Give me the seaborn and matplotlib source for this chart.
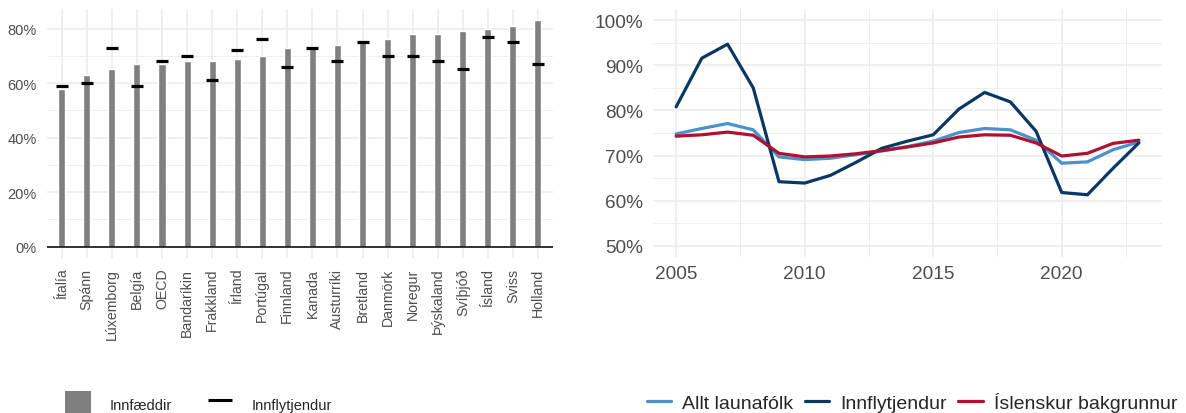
import numpy as np
import pandas as pd
import matplotlib
matplotlib.use("Agg")
import matplotlib.pyplot as plt
import seaborn as sns
from matplotlib.ticker import PercentFormatter, FixedLocator
from matplotlib.lines import Line2D
from matplotlib.patches import Patch

# ---------------- data ----------------
countries = ["Ítalía", "Spánn", "Lúxemborg", "Belgía", "OECD", "Bandaríkin", "Frakkland",
             "Írland", "Portúgal", "Finnland", "Kanada", "Austurríki", "Bretland", "Danmörk",
             "Noregur", "Þýskaland", "Svíþjóð", "Ísland", "Sviss", "Holland"]
native = [58, 63, 65, 67, 67, 68, 68, 69, 70, 73, 73, 74, 75, 76, 78, 78, 79, 80, 81, 83]
immigrants = [59, 60, 73, 59, 68, 70, 61, 72, 76, 66, 73, 68, 75, 70, 70, 68, 65, 77, 75, 67]

years = list(range(2005, 2024))
allt = [74.8, 76.0, 77.1, 75.7, 69.7, 69.1, 69.4, 70.2, 71.0, 72.0, 73.2, 75.1, 76.0, 75.7,
        73.4, 68.3, 68.6, 71.3, 73.0]
innfl = [80.8, 91.6, 94.7, 85.0, 64.2, 63.9, 65.6, 68.5, 71.6, 73.2, 74.6, 80.3, 84.0, 81.9,
         75.4, 61.8, 61.3, 67.2, 72.8]
isl = [74.3, 74.6, 75.2, 74.5, 70.5, 69.7, 69.9, 70.4, 71.1, 71.9, 72.8, 74.1, 74.6, 74.5,
       72.8, 69.9, 70.5, 72.7, 73.4]
series_names = ["Allt launafólk", "Innflytjendur", "Íslenskur bakgrunnur"]
series_colors = ["#4a92cb", "#0a3764", "#ad1230"]

# ---------------- style ----------------
sns.set_theme(style="white")
plt.rcParams['font.family'] = ['Liberation Sans', 'DejaVu Sans']

W, H = 1186, 414
fig = plt.figure(figsize=(W / 100, H / 100), dpi=100)
fig.patch.set_facecolor("white")

grid_c = "#ebebeb"
txt_c = "#4d4d4d"

# ---------------- left panel ----------------
axL = fig.add_axes([46.7 / W, (H - 259) / H, 506.3 / W, 249 / H])
sns.barplot(x=countries, y=native, order=countries, color="#7f7f7f", saturation=1,
            width=0.28, ax=axL, zorder=3)
sns.pointplot(x=countries, y=immigrants, order=countries, color="black", marker="_",
              markersize=9, markeredgewidth=2.3, linestyle="none", errorbar=None,
              ax=axL, zorder=4)
axL.set_xlim(-0.6, 19.6)
axL.set_ylim(-4.15, 87.15)
axL.yaxis.set_major_locator(FixedLocator([0, 20, 40, 60, 80]))
axL.yaxis.set_minor_locator(FixedLocator([10, 30, 50, 70]))
axL.yaxis.set_major_formatter(PercentFormatter(decimals=0))
axL.grid(True, which="major", axis="both", color=grid_c, linewidth=1.1, zorder=0)
axL.grid(True, which="minor", axis="y", color=grid_c, linewidth=0.6, zorder=0)
axL.set_axisbelow(True)
axL.axhline(0, color="black", linewidth=1.1, zorder=5)
for s in axL.spines.values():
    s.set_visible(False)
axL.tick_params(axis="both", which="both", length=0, colors=txt_c)
axL.tick_params(axis="y", labelsize=10.5, pad=7)
axL.tick_params(axis="x", labelsize=10.2, pad=7, labelrotation=90)
for lab in axL.get_xticklabels():
    lab.set_ha("center")
    lab.set_va("top")
axL.set_xlabel("")
axL.set_ylabel("")

legL_handles = [Patch(facecolor="#7f7f7f", edgecolor="none"),
                Line2D([], [], color="black", marker="_", markersize=17,
                       markeredgewidth=2.2, linestyle="none")]
fig.legend(legL_handles, ["Innfæddir", "Innflytjendur"], loc="center left",
           bbox_to_anchor=(65 / W, 8 / H), ncol=2, frameon=False, fontsize=10.5,
           handlelength=1.78, handleheight=2.5, handletextpad=1.3, columnspacing=2.4,
           borderpad=0, borderaxespad=0)

# ---------------- right panel ----------------
axR = fig.add_axes([653 / W, (H - 258) / H, 509 / W, 248 / H])
df = pd.DataFrame({
    "year": years * 3,
    "value": allt + innfl + isl,
    "series": [series_names[0]] * len(years) + [series_names[1]] * len(years)
              + [series_names[2]] * len(years),
})
sns.lineplot(data=df, x="year", y="value", hue="series", hue_order=series_names,
             palette=series_colors, linewidth=2.3, legend=False, ax=axR, zorder=3)
axR.set_xlim(2004.1, 2023.9)
axR.set_ylim(47.5, 102.5)
axR.xaxis.set_major_locator(FixedLocator([2005, 2010, 2015, 2020]))
axR.xaxis.set_minor_locator(FixedLocator([2007.5, 2012.5, 2017.5, 2022.5]))
axR.yaxis.set_major_locator(FixedLocator([50, 60, 70, 80, 90, 100]))
axR.yaxis.set_minor_locator(FixedLocator([55, 65, 75, 85, 95]))
axR.yaxis.set_major_formatter(PercentFormatter(decimals=0))
axR.grid(True, which="major", color=grid_c, linewidth=1.1, zorder=0)
axR.grid(True, which="minor", color=grid_c, linewidth=0.6, zorder=0)
axR.set_axisbelow(True)
for s in axR.spines.values():
    s.set_visible(False)
axR.tick_params(axis="both", which="both", length=0, colors=txt_c, labelsize=13.7)
axR.tick_params(axis="y", pad=7)
axR.tick_params(axis="x", pad=6)
axR.set_xlabel("")
axR.set_ylabel("")

legR_handles = [Line2D([], [], color=c, linewidth=2.3) for c in series_colors]
fig.legend(legR_handles, series_names, loc="center left",
           bbox_to_anchor=(647 / W, 11 / H), ncol=3, frameon=False, fontsize=14,
           handlelength=1.24, handletextpad=0.57, columnspacing=0.6,
           borderpad=0, borderaxespad=0)

fig.savefig("out.png", dpi=100, facecolor="white")
